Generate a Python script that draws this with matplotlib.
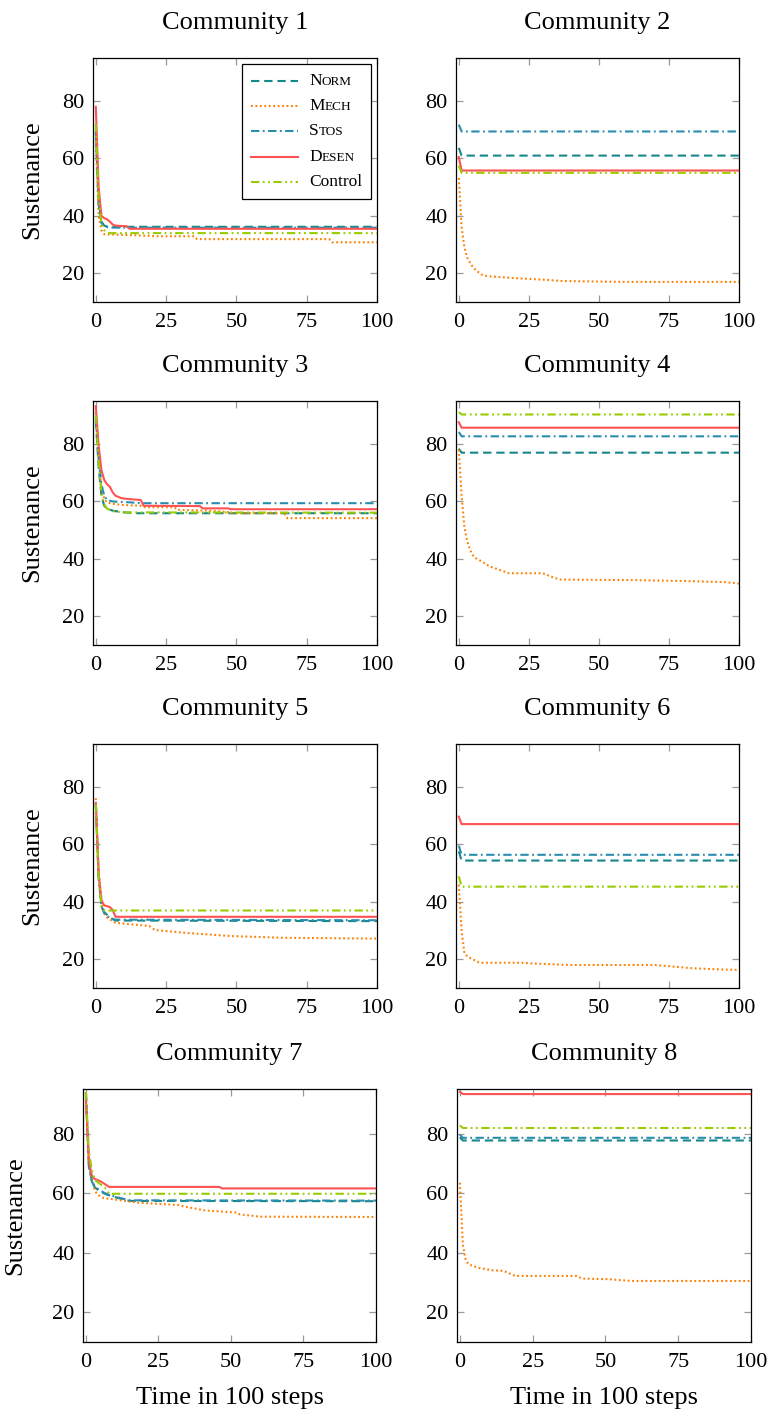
import matplotlib
matplotlib.use('Agg')
import matplotlib.pyplot as plt
from matplotlib.lines import Line2D
from matplotlib.offsetbox import AnchoredOffsetbox, DrawingArea, HPacker, VPacker, TextArea

# (step, sustenance) points, one list per method and community
c1_norm = [[0, 70], [1, 45], [2, 38], [3, 36.6], [4, 36.3], [5, 36.2], [100, 36.2]]
c1_mech = [[0, 66], [1, 40], [2, 35], [3, 33.6], [13, 33.3], [22, 32.9], [35, 32.9], [36, 31.9], [83, 31.9], [84, 30.8], [100, 30.8]]
c1_stos = [[0, 69], [1, 44], [2, 37.5], [3, 36.3], [5, 35.9], [100, 35.9]]
c1_desen = [[0, 78], [1, 50], [2, 40], [3, 39.2], [4, 38.8], [5, 38.0], [6, 37.0], [7, 36.6], [11, 36.4], [12, 35.5], [100, 35.5]]
c1_control = [[0, 72], [1, 46], [2, 37], [3, 35], [4, 34.2], [5, 34.0], [100, 34.0]]

c2_norm = [[0, 63.7], [1, 61.0], [100, 61.0]]
c2_mech = [[0, 53.2], [1, 36], [2, 29], [3, 25.5], [4, 23.7], [5, 22.2], [6, 21.2], [8, 19.6], [10, 19.0], [13, 18.8], [20, 18.3], [30, 17.8], [37, 17.3], [60, 17.0], [100, 17.0]]
c2_stos = [[0, 71.8], [1, 69.4], [100, 69.4]]
c2_desen = [[0, 60.5], [1, 55.8], [100, 55.8]]
c2_control = [[0, 57.5], [1, 55.0], [100, 55.0]]

c3_norm = [[0, 88], [1, 72], [2, 62], [3, 58.5], [4, 57.5], [6, 56.8], [10, 56.2], [15, 55.9], [100, 55.9]]
c3_mech = [[0, 91], [1, 76], [2, 64], [3, 61], [4, 59.6], [6, 59.2], [9, 58.8], [16, 58.5], [17, 58.0], [28, 58.0], [29, 57.1], [40, 56.8], [47, 56.3], [48, 55.9], [67, 55.9], [68, 54.2], [100, 54.2]]
c3_stos = [[0, 89], [1, 75], [2, 66], [3, 62], [4, 60.5], [6, 60.0], [12, 59.7], [16, 59.4], [100, 59.4]]
c3_desen = [[0, 93.2], [1, 79.5], [2, 70.9], [3, 67.5], [4, 66.0], [5, 65.1], [6, 63.2], [7, 62.0], [9, 61.2], [10, 61.0], [16, 60.5], [17, 58.5], [37, 58.4], [38, 57.6], [47, 57.6], [48, 57.3], [100, 57.3]]
c3_control = [[0, 90], [1, 74], [2, 63], [3, 59], [4, 57.5], [6, 56.6], [10, 56.2], [100, 56.1]]

c4_norm = [[0, 78.4], [1, 77.0], [100, 77.0]]
c4_mech = [[0, 78.1], [1, 62], [2, 51], [3, 46.2], [4, 43.2], [5, 41.3], [6, 40.3], [8, 39.2], [11, 37.4], [15, 36.0], [18, 35.0], [30, 35.0], [33, 33.8], [36, 32.8], [62, 32.6], [80, 32.3], [95, 31.9], [100, 31.4]]
c4_stos = [[0, 84.2], [1, 82.7], [100, 82.7]]
c4_desen = [[0, 87.6], [1, 85.7], [100, 85.7]]
c4_control = [[0, 91.1], [1, 90.3], [100, 90.3]]

c5_norm = [[0, 74.3], [1, 49], [2, 39], [3, 36.5], [5, 34.5], [7, 33.5], [100, 33.3]]
c5_mech = [[0, 76.1], [1, 51], [2, 41], [3, 36], [4, 34.5], [7, 32.7], [19, 31.6], [21, 30.2], [32, 29.2], [48, 28.1], [66, 27.5], [100, 27.2]]
c5_stos = [[0, 74], [1, 48], [2, 38.5], [3, 36], [5, 34.3], [7, 33.8], [100, 33.6]]
c5_desen = [[0, 74.5], [1, 50], [2, 40.5], [3, 38.8], [5, 38.2], [6, 37.2], [7, 34.8], [100, 34.8]]
c5_control = [[0, 74], [1, 49], [2, 38], [3, 37], [100, 37]]

c6_norm = [[0, 57.6], [1, 54.4], [100, 54.4]]
c6_mech = [[0, 46], [1, 30], [2, 22.2], [3, 21], [5, 20], [7, 19], [8, 18.8], [23, 18.8], [25, 18.6], [40, 18.0], [70, 18.0], [75, 17.6], [83, 16.9], [92, 16.5], [100, 16.3]]
c6_stos = [[0, 59.6], [1, 56.4], [100, 56.4]]
c6_desen = [[0, 69.7], [1, 67.1], [100, 67.1]]
c6_control = [[0, 48.9], [1, 45.3], [100, 45.3]]

c7_norm = [[0, 94], [1, 70], [2, 64.5], [3, 62], [5, 60.5], [7, 59.6], [11, 58.4], [15, 57.4], [100, 57.3]]
c7_mech = [[0, 93], [1, 72], [2, 65], [3, 61], [4, 59.5], [6, 58.4], [18, 56.8], [32, 56.0], [33, 55.7], [41, 54.2], [52, 53.5], [53, 52.9], [60, 52.1], [100, 52.0]]
c7_stos = [[0, 93.5], [1, 69], [2, 64], [3, 62.3], [5, 60.8], [7, 59.8], [11, 58.6], [15, 57.6], [100, 57.5]]
c7_desen = [[0, 91.5], [1, 71], [2, 66], [3, 64.8], [5, 64], [6, 63.4], [8, 62.1], [46, 62.1], [47, 61.6], [100, 61.6]]
c7_control = [[0, 94], [1, 74], [2, 68], [3, 64.5], [5, 63], [7, 61.5], [8, 59.8], [100, 59.8]]

c8_norm = [[0, 78.8], [1, 77.7], [100, 77.7]]
c8_mech = [[0, 63.5], [1, 42.8], [2, 37.5], [3, 36.1], [6, 35.0], [11, 34.1], [15, 33.9], [19, 32.2], [40, 32.2], [42, 31.3], [51, 31.1], [59, 30.5], [100, 30.5]]
c8_stos = [[0, 79.7], [1, 78.6], [100, 78.6]]
c8_desen = [[0, 94.0], [1, 93.3], [100, 93.3]]
c8_control = [[0, 82.8], [1, 81.9], [100, 81.9]]

methods = ['Norm', 'Mech', 'Stos', 'Desen', 'Control']
communities = [
    [c1_norm, c1_mech, c1_stos, c1_desen, c1_control],
    [c2_norm, c2_mech, c2_stos, c2_desen, c2_control],
    [c3_norm, c3_mech, c3_stos, c3_desen, c3_control],
    [c4_norm, c4_mech, c4_stos, c4_desen, c4_control],
    [c5_norm, c5_mech, c5_stos, c5_desen, c5_control],
    [c6_norm, c6_mech, c6_stos, c6_desen, c6_control],
    [c7_norm, c7_mech, c7_stos, c7_desen, c7_control],
    [c8_norm, c8_mech, c8_stos, c8_desen, c8_control],
]
x_ticks = [0, 25, 50, 75, 100]
y_ticks = [20, 40, 60, 80]

colors = ['#16878a', '#ff8000', '#2a8db0', '#ff5252', '#99cc00']
styles = [(0, (6, 3.5)), (0, (1.3, 1.9)), (0, (6, 2.5, 1.3, 2.5)), '-',
          (0, (6, 2.5, 1.3, 2.5, 1.3, 2.5))]

plt.rcParams['font.family'] = ['Liberation Serif', 'DejaVu Serif']
plt.rcParams['lines.scale_dashes'] = False

fig = plt.figure(figsize=(7.75, 14.18), dpi=100)

W, H = 775, 1418
# axes boxes in pixels: left, top, right, bottom
boxes = [
    (93, 58, 377, 302), (456, 58, 739, 302),
    (93, 401, 377, 645), (456, 401, 739, 645),
    (93, 744, 377, 988), (456, 744, 739, 988),
    (83, 1089, 376, 1342), (457, 1089, 751, 1342),
]

axes = []
for i, (l, t, r, b) in enumerate(boxes):
    ax = fig.add_axes([l / W, 1 - b / H, (r - l) / W, (b - t) / H])
    for s, c, ls in zip(communities[i], colors, styles):
        ax.plot([p[0] for p in s], [p[1] for p in s], color=c, linestyle=ls, lw=1.5)
    ax.set_xlim(-1, 100)
    ax.set_ylim(10, 95)
    ax.set_xticks(x_ticks)
    ax.set_yticks(y_ticks)
    ax.tick_params(direction='in', top=True, right=True, length=5, width=0.9,
                   color='#9a9a9a', labelsize=16)
    ax.tick_params(axis='x', pad=8)
    ax.tick_params(axis='y', pad=6)
    for sp in ax.spines.values():
        sp.set_linewidth(0.9)
    ax.set_title(f'Community {i + 1}', fontsize=19, pad=21)
    if i % 2 == 0:
        ax.set_ylabel('Sustenance', fontsize=19)
        ax.yaxis.set_label_coords(-0.175 if i < 6 else -0.195, 0.5)
    if i >= 6:
        ax.set_xlabel('Time in 100 steps', fontsize=19, labelpad=11)
    axes.append(ax)

# legend with small caps labels, built by hand
rows = []
for name, c, ls in zip(methods, colors, styles):
    da = DrawingArea(34, 12, 0, 0)
    da.add_artist(Line2D([0, 34], [6, 6], color=c, linestyle=ls, lw=1.5))
    if name == 'Control':
        txt = TextArea(name, textprops=dict(fontsize=12.5))
    else:
        txt = HPacker(children=[TextArea(name[0], textprops=dict(fontsize=12.5)),
                                TextArea(name[1:].upper(), textprops=dict(fontsize=9.5))],
                      align='baseline', pad=0, sep=0)
    rows.append(HPacker(children=[da, txt], align='center', pad=0, sep=8))
box = VPacker(children=rows, align='left', pad=0, sep=6.2)
anch = AnchoredOffsetbox(loc='upper right', child=box, pad=0.65, borderpad=0.4,
                         frameon=True, prop=dict(size=10))
anch.patch.set_boxstyle('square,pad=0')
anch.patch.set_edgecolor('black')
anch.patch.set_linewidth(0.9)
axes[0].add_artist(anch)

fig.savefig('out.png', dpi=100)
